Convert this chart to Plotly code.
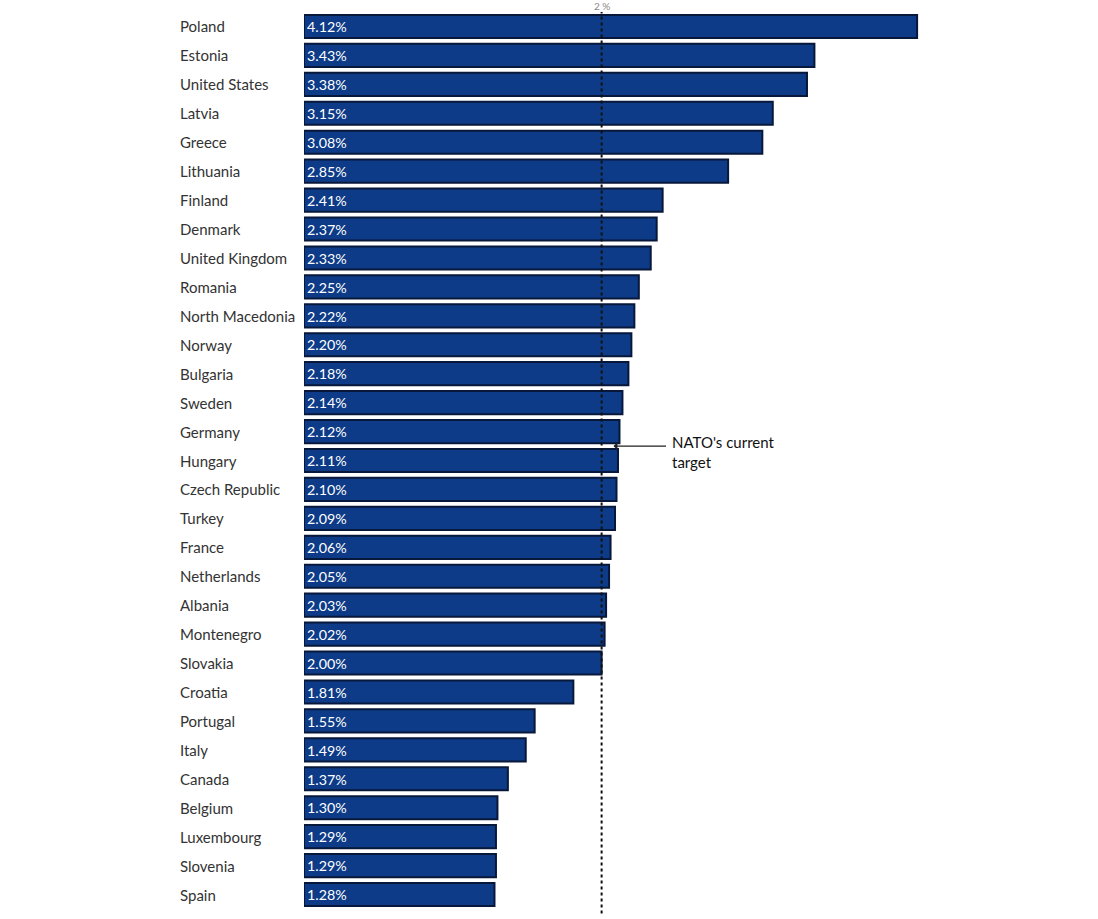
import plotly.graph_objects as go

countries = [
    "Poland", "Estonia", "United States", "Latvia", "Greece", "Lithuania",
    "Finland", "Denmark", "United Kingdom", "Romania", "North Macedonia",
    "Norway", "Bulgaria", "Sweden", "Germany", "Hungary", "Czech Republic",
    "Turkey", "France", "Netherlands", "Albania", "Montenegro", "Slovakia",
    "Croatia", "Portugal", "Italy", "Canada", "Belgium", "Luxembourg",
    "Slovenia", "Spain",
]
spending_pct = [
    4.12, 3.43, 3.38, 3.15, 3.08, 2.85, 2.41, 2.37, 2.33, 2.25, 2.22,
    2.20, 2.18, 2.14, 2.12, 2.11, 2.10, 2.09, 2.06, 2.05, 2.03, 2.02,
    2.00, 1.81, 1.55, 1.49, 1.37, 1.30, 1.29, 1.29, 1.28,
]
target = 2.0

FONT = "Lato"
BAR_FILL = "#0d3b87"
BAR_EDGE = "#08183a"

fig = go.Figure(go.Bar(
    x=spending_pct,
    y=countries,
    orientation="h",
    text=[f"{v:.2f}%" for v in spending_pct],
    textposition="inside",
    insidetextanchor="start",
    textfont=dict(family=FONT, size=15, color="white"),
    marker=dict(color=BAR_FILL, line=dict(color=BAR_EDGE, width=2)),
    cliponaxis=False,
    hoverinfo="skip",
))

# country names, left aligned
for c in countries:
    fig.add_annotation(
        x=0, xref="paper", xshift=-126, y=c, yref="y",
        text=c, showarrow=False, xanchor="left",
        font=dict(family=FONT, size=15, color="#333333"),
    )

# 2% target line
fig.add_shape(
    type="line", x0=target, x1=target, xref="x",
    y0=-0.005, y1=1.0, yref="paper", layer="above",
    line=dict(color="#111111", width=2, dash="dot"),
)
fig.add_annotation(
    x=target, y=1, xref="x", yref="paper", yanchor="bottom", yshift=-2,
    text="2 %", showarrow=False,
    font=dict(family=FONT, size=10, color="#888888"),
)

# NATO target callout
fig.add_annotation(
    x=2.08, y=14.5, xref="x", yref="y",
    text="", showarrow=True, ax=54, ay=0, axref="pixel", ayref="pixel",
    arrowhead=1, arrowsize=1, arrowwidth=1.3, arrowcolor="#222222",
    standoff=0, startstandoff=0,
)
fig.add_annotation(
    x=2.46, y=14.72, xref="x", yref="y",
    text="NATO's current<br>target", showarrow=False,
    xanchor="left", yanchor="middle", align="left",
    font=dict(family=FONT, size=15, color="#111111"),
)

fig.update_layout(
    width=1098, height=919,
    margin=dict(l=304, r=169, t=12, b=10),
    paper_bgcolor="white", plot_bgcolor="white",
    bargap=0.2,
    showlegend=False,
    xaxis=dict(range=[0, 4.2], visible=False, fixedrange=True),
    yaxis=dict(autorange="reversed", showticklabels=False, showgrid=False,
               zeroline=False, showline=False, ticks="", fixedrange=True),
)

fig.write_html(
    "out.html",
    config={"displayModeBar": False},
    post_script="document.body.style.margin = '0';",
)
